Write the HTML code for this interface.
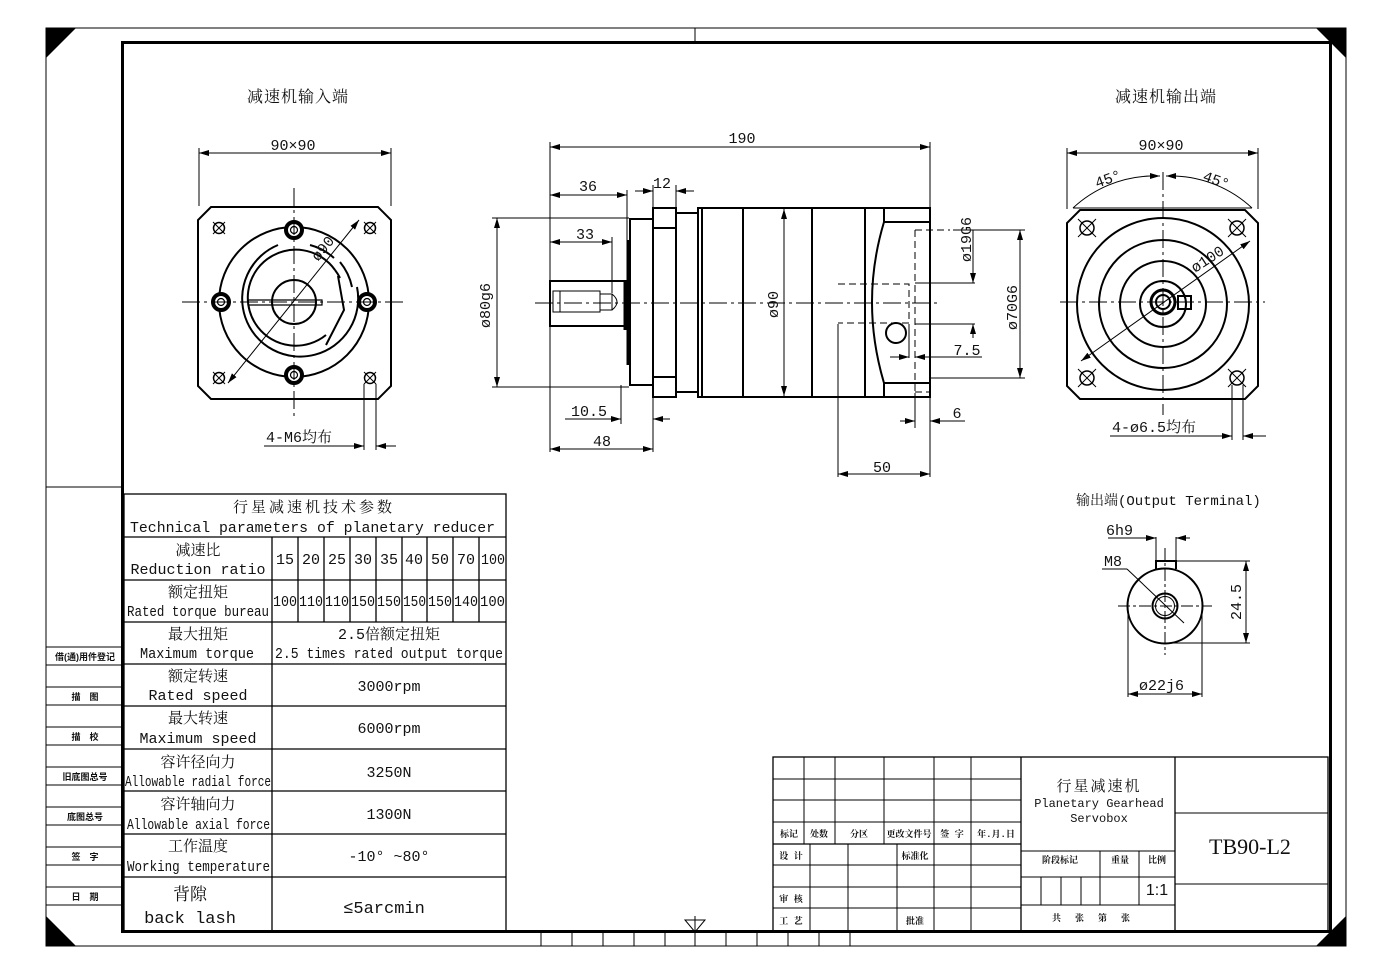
<!DOCTYPE html>
<html><head><meta charset="utf-8"><style>
html,body{margin:0;padding:0;background:#fff}
svg{display:block}
text{font-family:"Liberation Mono","Noto Serif CJK SC",monospace;fill:#111}
.cn{font-family:"Liberation Serif","Noto Serif CJK SC",serif}
.b{font-family:"Liberation Sans","Noto Sans CJK SC",sans-serif;font-weight:bold;font-size:9px}
</style></head><body>
<svg width="1382" height="978" viewBox="0 0 1382 978" xmlns="http://www.w3.org/2000/svg">
<defs>
<marker id="a" viewBox="0 0 10 6" refX="10" refY="3" markerWidth="10" markerHeight="6" orient="auto-start-reverse" markerUnits="userSpaceOnUse"><path d="M0,0L10,3L0,6z" fill="#000"/></marker>
</defs>
<g fill="none" stroke="#000">
<rect x="46" y="28" width="1300" height="918" stroke-width="1"/>
<rect x="122.5" y="42.5" width="1208" height="889" stroke-width="3"/>
<line x1="695" y1="28" x2="695" y2="42"/>
</g>
<g fill="#000">
<path d="M46,28h30l-30,30z"/><path d="M1346,28h-30l30,30z"/><path d="M46,946h30l-30,-30z"/><path d="M1346,946h-30l30,-30z"/>
</g>
<g stroke="#000" fill="none">
<line x1="46" y1="487" x2="122" y2="487"/>
<line x1="46" y1="647" x2="122" y2="647"/><line x1="46" y1="665" x2="122" y2="665"/>
<line x1="46" y1="687" x2="122" y2="687"/><line x1="46" y1="705" x2="122" y2="705"/>
<line x1="46" y1="727" x2="122" y2="727"/><line x1="46" y1="745" x2="122" y2="745"/>
<line x1="46" y1="767" x2="122" y2="767"/><line x1="46" y1="785" x2="122" y2="785"/>
<line x1="46" y1="807" x2="122" y2="807"/><line x1="46" y1="825" x2="122" y2="825"/>
<line x1="46" y1="847" x2="122" y2="847"/><line x1="46" y1="865" x2="122" y2="865"/>
<line x1="46" y1="887" x2="122" y2="887"/><line x1="46" y1="905" x2="122" y2="905"/>
</g>
<g class="b" text-anchor="middle">
<text x="85" y="660" class="b">借(通)用件登记</text>
<text x="85" y="700" class="b">描　图</text>
<text x="85" y="740" class="b">描　校</text>
<text x="85" y="780" class="b">旧底图总号</text>
<text x="85" y="820" class="b">底图总号</text>
<text x="85" y="860" class="b">签　字</text>
<text x="85" y="900" class="b">日　期</text>
</g>
<g stroke="#000"><line x1="541" y1="932" x2="541" y2="946"/><line x1="572" y1="932" x2="572" y2="946"/><line x1="603" y1="932" x2="603" y2="946"/><line x1="634" y1="932" x2="634" y2="946"/><line x1="665" y1="932" x2="665" y2="946"/><line x1="726" y1="932" x2="726" y2="946"/><line x1="757" y1="932" x2="757" y2="946"/><line x1="788" y1="932" x2="788" y2="946"/><line x1="819" y1="932" x2="819" y2="946"/><line x1="850" y1="932" x2="850" y2="946"/>
<path d="M685,920h20l-10,12z" fill="none"/><line x1="695" y1="916" x2="695" y2="946"/></g>

<g stroke="#000" fill="none" stroke-width="1.3">
<rect x="124" y="494" width="382" height="437"/>
<line x1="124" y1="537" x2="506" y2="537"/><line x1="124" y1="580" x2="506" y2="580"/><line x1="124" y1="622" x2="506" y2="622"/><line x1="124" y1="664" x2="506" y2="664"/><line x1="124" y1="706" x2="506" y2="706"/><line x1="124" y1="749" x2="506" y2="749"/><line x1="124" y1="791" x2="506" y2="791"/><line x1="124" y1="834" x2="506" y2="834"/><line x1="124" y1="877" x2="506" y2="877"/>
<line x1="272" y1="537" x2="272" y2="931"/>
<line x1="298" y1="537" x2="298" y2="622"/><line x1="324" y1="537" x2="324" y2="622"/><line x1="350" y1="537" x2="350" y2="622"/><line x1="376" y1="537" x2="376" y2="622"/><line x1="402" y1="537" x2="402" y2="622"/><line x1="427" y1="537" x2="427" y2="622"/><line x1="453" y1="537" x2="453" y2="622"/><line x1="479" y1="537" x2="479" y2="622"/>
</g>
<g font-size="15" text-anchor="middle">
<text x="314" y="512" letter-spacing="3">行星减速机技术参数</text>
<text x="130" y="532" text-anchor="start" textLength="365" lengthAdjust="spacingAndGlyphs">Technical parameters of planetary reducer</text>
<text x="198" y="555">减速比</text><text x="198" y="574">Reduction ratio</text>
<text x="285" y="564">15</text><text x="311" y="564">20</text><text x="337" y="564">25</text><text x="363" y="564">30</text><text x="389" y="564">35</text><text x="414" y="564">40</text><text x="440" y="564">50</text><text x="466" y="564">70</text>
<text x="481" y="564" text-anchor="start" textLength="24" lengthAdjust="spacingAndGlyphs">100</text>
<text x="198" y="597">额定扭矩</text>
<text x="127" y="616" text-anchor="start" textLength="142" lengthAdjust="spacingAndGlyphs">Rated torque bureau</text>
<g text-anchor="start">
<text x="273" y="606" textLength="24" lengthAdjust="spacingAndGlyphs">100</text><text x="299" y="606" textLength="24" lengthAdjust="spacingAndGlyphs">110</text><text x="325" y="606" textLength="24" lengthAdjust="spacingAndGlyphs">110</text><text x="351" y="606" textLength="24" lengthAdjust="spacingAndGlyphs">150</text><text x="377" y="606" textLength="24" lengthAdjust="spacingAndGlyphs">150</text><text x="403" y="606" textLength="23" lengthAdjust="spacingAndGlyphs">150</text><text x="428" y="606" textLength="24" lengthAdjust="spacingAndGlyphs">150</text><text x="454" y="606" textLength="24" lengthAdjust="spacingAndGlyphs">140</text><text x="480" y="606" textLength="25" lengthAdjust="spacingAndGlyphs">100</text>
</g>
<text x="198" y="639">最大扭矩</text>
<text x="140" y="658" text-anchor="start" textLength="114" lengthAdjust="spacingAndGlyphs">Maximum torque</text>
<text x="389" y="639">2.5倍额定扭矩</text>
<text x="275" y="658" text-anchor="start" textLength="228" lengthAdjust="spacingAndGlyphs">2.5 times rated output torque</text>
<text x="198" y="681">额定转速</text><text x="198" y="700">Rated speed</text><text x="389" y="691">3000rpm</text>
<text x="198" y="723">最大转速</text><text x="198" y="743">Maximum speed</text><text x="389" y="733">6000rpm</text>
<text x="198" y="767">容许径向力</text>
<text x="125" y="786" text-anchor="start" textLength="146" lengthAdjust="spacingAndGlyphs">Allowable radial force</text><text x="389" y="777">3250N</text>
<text x="198" y="809">容许轴向力</text>
<text x="127" y="829" text-anchor="start" textLength="143" lengthAdjust="spacingAndGlyphs">Allowable axial force</text><text x="389" y="819">1300N</text>
<text x="198" y="851">工作温度</text>
<text x="127" y="871" text-anchor="start" textLength="143" lengthAdjust="spacingAndGlyphs">Working temperature</text><text x="389" y="861">-10° ~80°</text>
<text x="190" y="900" font-size="17">背隙</text><text x="190" y="923" font-size="17">back lash</text><text x="384" y="913" font-size="17">≤5arcmin</text>
</g>

<g stroke="#000" fill="none">
<rect x="773" y="757" width="555" height="174" stroke-width="1.3"/>
<line x1="1021" y1="757" x2="1021" y2="931" stroke-width="1.3"/><line x1="1175" y1="757" x2="1175" y2="931" stroke-width="1.3"/>
<line x1="773" y1="779" x2="1021" y2="779"/><line x1="773" y1="800" x2="1021" y2="800"/><line x1="773" y1="822" x2="1021" y2="822"/><line x1="773" y1="844" x2="1021" y2="844" stroke-width="1.3"/><line x1="773" y1="865" x2="1021" y2="865"/><line x1="773" y1="887" x2="1021" y2="887"/><line x1="773" y1="908" x2="1021" y2="908"/>
<line x1="804" y1="757" x2="804" y2="844"/><line x1="835" y1="757" x2="835" y2="844"/><line x1="884" y1="757" x2="884" y2="844"/><line x1="934" y1="757" x2="934" y2="844"/><line x1="971" y1="757" x2="971" y2="844"/>
<line x1="810" y1="844" x2="810" y2="931"/><line x1="848" y1="844" x2="848" y2="931"/><line x1="897" y1="844" x2="897" y2="931"/><line x1="934" y1="844" x2="934" y2="931"/><line x1="971" y1="844" x2="971" y2="931"/>
<line x1="1021" y1="851" x2="1175" y2="851"/><line x1="1021" y1="877" x2="1175" y2="877"/><line x1="1021" y1="905" x2="1175" y2="905"/>
<line x1="1100" y1="851" x2="1100" y2="905"/><line x1="1139" y1="851" x2="1139" y2="905"/>
<line x1="1041" y1="877" x2="1041" y2="905"/><line x1="1061" y1="877" x2="1061" y2="905"/><line x1="1081" y1="877" x2="1081" y2="905"/>
<line x1="1175" y1="813" x2="1328" y2="813"/><line x1="1175" y1="884" x2="1328" y2="884"/>
</g>
<g class="b" text-anchor="middle">
<text x="789" y="837">标记</text><text x="819" y="837">处数</text><text x="859" y="837">分区</text><text x="909" y="837">更改文件号</text><text x="952" y="837">签 字</text><text x="996" y="837">年.月.日</text>
<text x="791" y="859">设 计</text><text x="915" y="859">标准化</text>
<text x="791" y="902">审 核</text><text x="791" y="924">工 艺</text><text x="915" y="924">批准</text>
<text x="1060" y="863">阶段标记</text><text x="1120" y="863">重量</text><text x="1157" y="863">比例</text>
<text x="1098" y="921" letter-spacing="14">共张第张</text>
</g>
<g text-anchor="middle">
<text x="1099" y="791" font-size="15" letter-spacing="2">行星减速机</text>
<text x="1099" y="807" font-size="12">Planetary Gearhead</text>
<text x="1099" y="822" font-size="12">Servobox</text>
<text x="1157" y="895" font-size="16" style="font-family:'Liberation Sans',sans-serif">1:1</text>
<text x="1250" y="854" font-size="22" class="cn">TB90-L2</text>
</g>

<g font-size="16" text-anchor="middle">
<text x="298" y="102" letter-spacing="1">减速机输入端</text>
<text x="1166" y="102" letter-spacing="1">减速机输出端</text>
</g>

<g stroke="#000" fill="none" stroke-width="2">
<path d="M211,207H378L391,220V386L378,399H211L198,386V220Z"/>
<circle cx="294" cy="302" r="75"/>
<path d="M278,245 A58,58 0 1,0 357,287" />
<path d="M310,245 A58,58 0 0,1 334,258"/>
<path d="M340,262 A58,58 0 0,1 352,287"/>
<path d="M335,270 A48,48 0 1,0 326,335"/>
<path d="M338,276 L344,310 L326,345"/>
<path d="M335,270 A48,48 0 0,1 340,278"/>
<circle cx="294" cy="302" r="22"/>
<path d="M248,300H322V305H248Z" stroke-width="1.2"/>
</g>
<g stroke="#000" fill="#fff">
<g stroke-width="4"><circle cx="294" cy="230" r="8"/><circle cx="221" cy="302" r="8"/><circle cx="367" cy="302" r="8"/><circle cx="294" cy="375" r="8"/></g>
<g stroke-width="1.2"><circle cx="294" cy="230" r="3.5"/><circle cx="221" cy="302" r="3.5"/><circle cx="367" cy="302" r="3.5"/><circle cx="294" cy="375" r="3.5"/></g>
<g stroke-width="1.5"><circle cx="219" cy="228" r="5.5"/><circle cx="370" cy="228" r="5.5"/><circle cx="219" cy="378" r="5.5"/><circle cx="370" cy="378" r="5.5"/></g>
</g>
<g stroke="#000" stroke-width="1">
<path d="M213,222l12,12M225,222l-12,12M364,222l12,12M376,222l-12,12M213,372l12,12M225,372l-12,12M364,372l12,12M376,372l-12,12"/>
<line x1="182" y1="302" x2="406" y2="302" stroke-dasharray="18,4,3,4"/>
<line x1="294" y1="188" x2="294" y2="418" stroke-dasharray="18,4,3,4"/>
<line x1="199" y1="148" x2="199" y2="206"/><line x1="391" y1="148" x2="391" y2="206"/>
<line x1="199" y1="153" x2="391" y2="153" marker-start="url(#a)" marker-end="url(#a)"/>
<line x1="228" y1="383" x2="359" y2="220" marker-start="url(#a)" marker-end="url(#a)"/>
<line x1="364" y1="384" x2="364" y2="450"/><line x1="376" y1="384" x2="376" y2="450"/>
<line x1="264" y1="446" x2="364" y2="446" marker-end="url(#a)"/><line x1="376" y1="446" x2="396" y2="446" marker-start="url(#a)"/>
</g>
<text x="293" y="150" font-size="15" text-anchor="middle">90×90</text>
<text x="0" y="0" font-size="15" transform="translate(318,262) rotate(-51)">ø90</text>
<text x="266" y="442" font-size="15">4-M6均布</text>

<g stroke="#000" fill="none" stroke-width="2">
<path d="M1080,210H1245L1258,223V386L1245,399H1080L1067,386V223Z"/>
<circle cx="1163" cy="304" r="86"/><circle cx="1163" cy="304" r="64"/><circle cx="1163" cy="304" r="43"/><circle cx="1163" cy="304" r="23"/>
<circle cx="1163" cy="302" r="12" stroke-width="3"/><circle cx="1163" cy="302" r="7"/>
<rect x="1178" y="296" width="13" height="13"/>
</g>
<g stroke="#000" fill="none" stroke-width="1.5">
<circle cx="1087" cy="228" r="7"/><circle cx="1237" cy="228" r="7"/><circle cx="1087" cy="378" r="7"/><circle cx="1237" cy="378" r="7"/>
</g>
<g stroke="#000" stroke-width="1">
<path d="M1078,219l18,18M1096,219l-18,18M1228,219l18,18M1246,219l-18,18M1078,369l18,18M1096,369l-18,18M1228,369l18,18M1246,369l-18,18"/>
<line x1="1060" y1="302" x2="1265" y2="302" stroke-dasharray="18,4,3,4"/>
<line x1="1163" y1="172" x2="1163" y2="415" stroke-dasharray="18,4,3,4"/>
<line x1="1067" y1="148" x2="1067" y2="209"/><line x1="1258" y1="148" x2="1258" y2="209"/>
<line x1="1067" y1="153" x2="1258" y2="153" marker-start="url(#a)" marker-end="url(#a)"/>
<line x1="1073" y1="208" x2="1252" y2="208"/>
<path d="M1073,208 A120,120 0 0,1 1150,176" fill="none"/><path d="M1175,176 A120,120 0 0,1 1252,208" fill="none"/>
<line x1="1150" y1="176" x2="1160" y2="176" marker-end="url(#a)"/><line x1="1176" y1="176" x2="1166" y2="176" marker-end="url(#a)"/>
<line x1="1081" y1="361" x2="1250" y2="241" marker-start="url(#a)" marker-end="url(#a)"/>
<line x1="1232" y1="385" x2="1232" y2="440"/><line x1="1243" y1="385" x2="1243" y2="440"/>
<line x1="1110" y1="436" x2="1232" y2="436" marker-end="url(#a)"/><line x1="1243" y1="436" x2="1266" y2="436" marker-start="url(#a)"/>
</g>
<text x="1161" y="150" font-size="15" text-anchor="middle">90×90</text>
<text font-size="15" transform="translate(1097,188) rotate(-20)">45°</text>
<text font-size="15" transform="translate(1202,180) rotate(20)">45°</text>
<text font-size="15" transform="translate(1195,273) rotate(-33)">ø100</text>
<text x="1112" y="432" font-size="15">4-ø6.5均布</text>

<g stroke="#000" fill="none" stroke-width="2">
<rect x="550" y="281" width="80" height="45"/>
<rect x="630" y="219" width="23" height="166"/>
<rect x="653" y="208" width="23" height="189"/>
<line x1="653" y1="228" x2="676" y2="228"/><line x1="653" y1="377" x2="676" y2="377"/>
<rect x="676" y="213" width="22" height="179"/>
<path d="M698,208H930V397H698Z"/>
<line x1="702" y1="208" x2="702" y2="397"/>
<line x1="743" y1="208" x2="743" y2="397"/><line x1="812" y1="208" x2="812" y2="397"/><line x1="865" y1="208" x2="865" y2="397"/>
<line x1="884" y1="208" x2="884" y2="222"/><line x1="884" y1="383" x2="884" y2="397"/>
<path d="M884,222 Q860,302 884,383"/>
<line x1="884" y1="222" x2="930" y2="222"/><line x1="884" y1="383" x2="930" y2="383"/>
<circle cx="896" cy="333" r="10"/>
<line x1="628" y1="240" x2="628" y2="365" stroke-width="3"/>
<line x1="625" y1="282" x2="625" y2="330" stroke-width="3"/>
</g>
<g stroke="#000" fill="none" stroke-width="1">
<path d="M553,291H600V312H553Z"/><path d="M600,294H612V310H600"/><path d="M612,294Q622,302 612,310"/>
<line x1="560" y1="291" x2="560" y2="312"/>
<path d="M838,284H909V323H838" stroke-dasharray="7,4"/>
<line x1="915" y1="230" x2="915" y2="392" stroke-dasharray="7,4"/>
<line x1="915" y1="230" x2="950" y2="230" stroke-dasharray="7,4"/>
<line x1="915" y1="392" x2="930" y2="392" stroke-dasharray="7,4"/>
<line x1="535" y1="303" x2="940" y2="303" stroke-dasharray="18,4,3,4"/>
</g>
<g stroke="#000" stroke-width="1">
<line x1="550" y1="142" x2="550" y2="280"/><line x1="930" y1="142" x2="930" y2="207"/>
<line x1="550" y1="147" x2="930" y2="147" marker-start="url(#a)" marker-end="url(#a)"/>
<line x1="550" y1="195" x2="627" y2="195" marker-start="url(#a)" marker-end="url(#a)"/>
<line x1="627" y1="190" x2="627" y2="280"/>
<line x1="635" y1="191" x2="653" y2="191" marker-end="url(#a)"/><line x1="676" y1="191" x2="694" y2="191" marker-start="url(#a)"/>
<line x1="653" y1="185" x2="653" y2="207"/><line x1="676" y1="185" x2="676" y2="207"/>
<line x1="550" y1="242" x2="612" y2="242" marker-start="url(#a)" marker-end="url(#a)"/><line x1="612" y1="237" x2="612" y2="293"/>
<line x1="492" y1="218" x2="629" y2="218"/><line x1="492" y1="387" x2="629" y2="387"/>
<line x1="497" y1="218" x2="497" y2="387" marker-start="url(#a)" marker-end="url(#a)"/>
<line x1="784" y1="209" x2="784" y2="396" marker-start="url(#a)" marker-end="url(#a)"/>
<line x1="550" y1="327" x2="550" y2="452"/><line x1="621" y1="385" x2="621" y2="424"/><line x1="653" y1="398" x2="653" y2="452"/>
<line x1="565" y1="419" x2="621" y2="419" marker-end="url(#a)"/><line x1="653" y1="419" x2="670" y2="419" marker-start="url(#a)"/>
<line x1="550" y1="449" x2="653" y2="449" marker-start="url(#a)" marker-end="url(#a)"/>
<line x1="838" y1="324" x2="838" y2="477"/><line x1="930" y1="398" x2="930" y2="477"/>
<line x1="838" y1="474" x2="930" y2="474" marker-start="url(#a)" marker-end="url(#a)"/>
<line x1="915" y1="393" x2="915" y2="428"/>
<line x1="900" y1="421" x2="915" y2="421" marker-end="url(#a)"/><line x1="930" y1="421" x2="965" y2="421" marker-start="url(#a)"/>
<line x1="915" y1="283" x2="975" y2="283"/><line x1="915" y1="324" x2="975" y2="324"/>
<line x1="973" y1="230" x2="973" y2="283" marker-end="url(#a)"/><line x1="973" y1="324" x2="973" y2="338" marker-start="url(#a)"/>
<line x1="953" y1="230" x2="1025" y2="230"/><line x1="930" y1="378" x2="1025" y2="378"/>
<line x1="1020" y1="230" x2="1020" y2="378" marker-start="url(#a)" marker-end="url(#a)"/>
<line x1="909" y1="324" x2="909" y2="358"/>
<line x1="890" y1="357" x2="909" y2="357" marker-end="url(#a)"/><line x1="915" y1="357" x2="982" y2="357" marker-start="url(#a)"/>
</g>
<g font-size="15">
<text x="742" y="143" text-anchor="middle">190</text>
<text x="588" y="191" text-anchor="middle">36</text>
<text x="662" y="188" text-anchor="middle">12</text>
<text x="585" y="239" text-anchor="middle">33</text>
<text x="589" y="416" text-anchor="middle">10.5</text>
<text x="602" y="446" text-anchor="middle">48</text>
<text x="882" y="472" text-anchor="middle">50</text>
<text x="957" y="418" text-anchor="middle">6</text>
<text x="967" y="355" text-anchor="middle">7.5</text>
<text transform="translate(490,328) rotate(-90)">ø80g6</text>
<text transform="translate(778,318) rotate(-90)">ø90</text>
<text transform="translate(971,262) rotate(-90)">ø19G6</text>
<text transform="translate(1017,330) rotate(-90)">ø70G6</text>
</g>

<text x="1076" y="505" font-size="14">输出端(Output Terminal)</text>
<g stroke="#000" fill="none" stroke-width="2">
<circle cx="1165" cy="606" r="37.5"/>
<circle cx="1165" cy="606" r="12.5"/><circle cx="1165" cy="606" r="9.5" stroke-width="1"/>
<path d="M1156,569V561H1176V569"/>
</g>
<g stroke="#000" stroke-width="1">
<line x1="1165" y1="548" x2="1165" y2="655" stroke-dasharray="12,3,3,3"/>
<line x1="1118" y1="606" x2="1212" y2="606" stroke-dasharray="12,3,3,3"/>
<line x1="1156" y1="537" x2="1156" y2="561"/><line x1="1176" y1="537" x2="1176" y2="561"/>
<line x1="1108" y1="538" x2="1156" y2="538" marker-end="url(#a)"/><line x1="1176" y1="538" x2="1190" y2="538" marker-start="url(#a)"/>
<line x1="1102" y1="569" x2="1127" y2="569"/><line x1="1127" y1="569" x2="1184" y2="623"/>
<line x1="1176" y1="561" x2="1250" y2="561"/><line x1="1165" y1="643" x2="1250" y2="643"/>
<line x1="1246" y1="561" x2="1246" y2="643" marker-start="url(#a)" marker-end="url(#a)"/>
<line x1="1128" y1="606" x2="1128" y2="697"/><line x1="1202" y1="606" x2="1202" y2="697"/>
<line x1="1128" y1="694" x2="1202" y2="694" marker-start="url(#a)" marker-end="url(#a)"/>
</g>
<g font-size="15">
<text x="1106" y="535">6h9</text>
<text x="1104" y="566">M8</text>
<text x="1139" y="690">ø22j6</text>
<text transform="translate(1241,620) rotate(-90)">24.5</text>
</g>
</svg>
</body></html>
